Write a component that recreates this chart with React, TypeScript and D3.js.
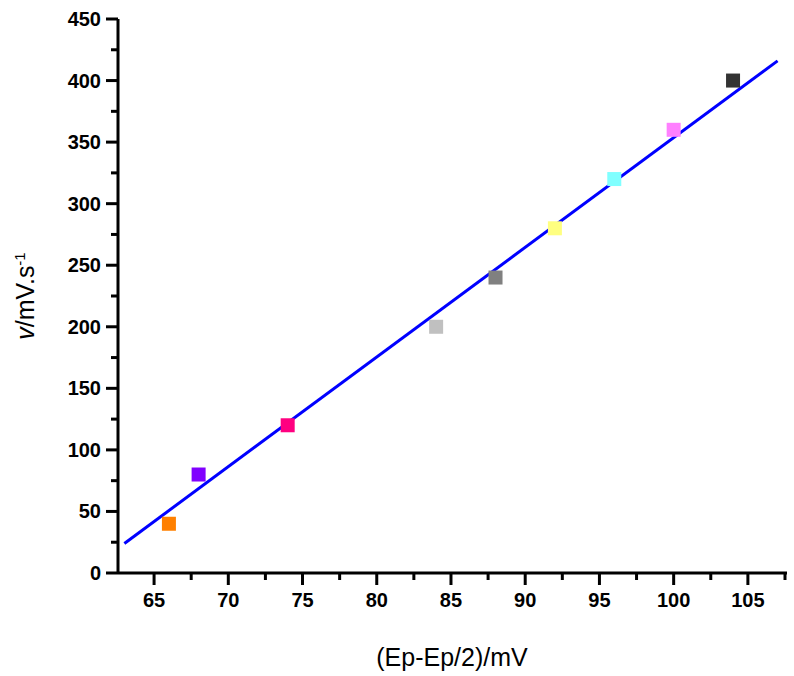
import React from 'react';
import * as d3 from 'd3';

const xValues = [66, 68, 74, 84, 88, 92, 96, 100, 104];
const yValues = [40, 80, 120, 200, 240, 280, 320, 360, 400];
const colors = ['#ff8000', '#8000ff', '#ff0080', '#c0c0c0', '#808080', '#ffff80', '#80ffff', '#ff80ff', '#333333'];
const xTicks = [65, 70, 75, 80, 85, 90, 95, 100, 105];
const yTicks = [0, 50, 100, 150, 200, 250, 300, 350, 400, 450];
const fitX = [63, 107];
const fitY = [24, 416];

const left = 118, right = 785, top = 19, bottom = 573;

export default function App() {
  const x = d3.scaleLinear().domain([62.57, 107.5]).range([left, right]);
  const y = d3.scaleLinear().domain([0, 450]).range([bottom, top]);
  const xMinor = d3.range(62.5, 108, 2.5).filter(v => x(v) >= left - 0.5 && x(v) <= right);
  const yMinor = d3.range(25, 450, 50);
  const line = d3.line<number>().x((_, i) => x(fitX[i])).y(d => y(d));
  const font = 'Arial, "Liberation Sans", sans-serif';
  return (
    <svg width={794} height={676} style={{ position: 'absolute', left: 0, top: 0 }} fontFamily={font}>
      <rect width={794} height={676} fill="#fff" />
      <path d={line(fitY) || ''} stroke="#0000ff" strokeWidth={3} fill="none" />
      {xValues.map((v, i) => (
        <rect key={i} x={x(v) - 7} y={y(yValues[i]) - 7} width={14} height={14} fill={colors[i]} />
      ))}
      <line x1={left} x2={right + 2} y1={bottom} y2={bottom} stroke="#000" strokeWidth={3} />
      <line x1={left} x2={left} y1={top} y2={bottom} stroke="#000" strokeWidth={3} />
      {xMinor.map(v => (
        <line key={v} x1={x(v)} x2={x(v)} y1={bottom} y2={xTicks.includes(v) ? bottom + 12 : bottom + 7} stroke="#000" strokeWidth={3} />
      ))}
      {xTicks.map(v => (
        <text key={v} x={x(v)} y={bottom + 34} textAnchor="middle" fontSize={20} fontWeight="bold">{v}</text>
      ))}
      {yTicks.map(v => (
        <g key={v}>
          <line x1={left - 12} x2={left} y1={y(v)} y2={y(v)} stroke="#000" strokeWidth={3} />
          <text x={left - 17} y={y(v) + 7} textAnchor="end" fontSize={20} fontWeight="bold">{v}</text>
        </g>
      ))}
      {yMinor.map(v => (
        <line key={v} x1={left - 7} x2={left} y1={y(v)} y2={y(v)} stroke="#000" strokeWidth={3} />
      ))}
      <text x={452} y={666} textAnchor="middle" fontSize={25}>(Ep-Ep/2)/mV</text>
      <text transform="translate(34,296) rotate(-90)" textAnchor="middle" fontSize={25}>
        <tspan fontStyle="italic">v</tspan>/mV.s<tspan dy={-9} fontSize={15}>-1</tspan>
      </text>
    </svg>
  );
}
